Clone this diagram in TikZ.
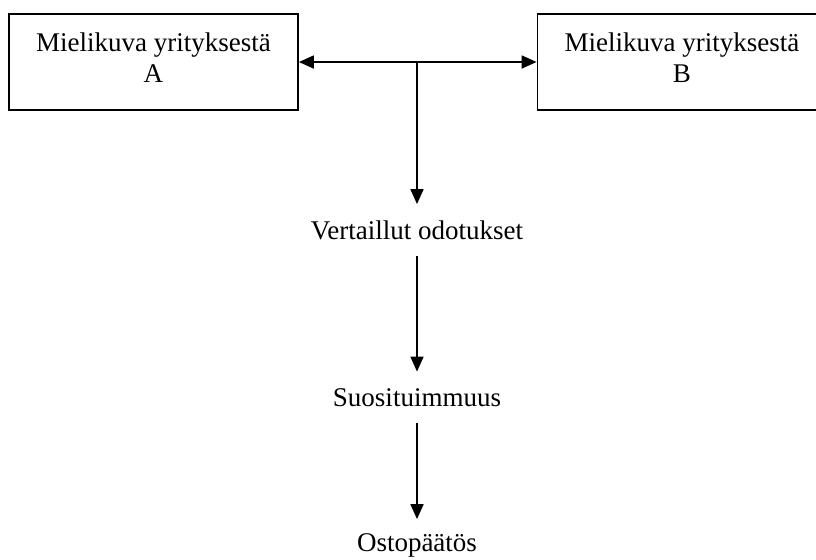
\documentclass[tikz,border=0pt]{standalone}
\usepackage{fontspec}
\setmainfont{Liberation Serif}
\usepackage{tikz}
\usetikzlibrary{positioning,arrows.meta}

\begin{document}
\begin{tikzpicture}[
  x=0.5pt, y=-0.5pt,
  font=\fontsize{13.5}{15.5}\selectfont,
  >={Triangle[length=7.5pt,width=6.5pt]},
  line width=0.9pt,
  imgbox/.style={draw, rectangle, minimum width=144.5pt, minimum height=47.75pt, align=center, inner sep=0pt, text depth=4pt},
  stage/.style={inner sep=0pt, minimum height=25pt, align=center}
]
\useasboundingbox (0,0) rectangle (816,559);
% company images (top)
\node[imgbox] (imgA) at (153.5,62) {Mielikuva yrityksestä\\A};
\node[imgbox] (imgB) at (682,62)   {Mielikuva yrityksestä\\B};
\coordinate (join) at (417,62);
% decision chain
\node[stage] (vert)  at (417,230)   {Vertaillut odotukset};
\node[stage] (suos)  at (417,397.5) {Suosituimmuus};
\node[stage] (osto)  at (417,545)   {Ostopäätös};
% arrows
\draw[<->] (imgA.east) -- (imgB.west);
\draw[->] (join) -- (vert);
\draw[->] (vert) -- (suos);
\draw[->] (suos) -- (osto.north);
\end{tikzpicture}
\end{document}
